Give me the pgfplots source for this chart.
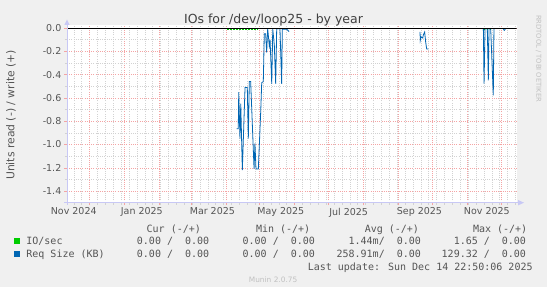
\documentclass[border=0pt]{standalone}
\usepackage{fontspec}
\setmainfont{DejaVu Sans}
\newfontfamily\monofont{DejaVu Sans Mono}
\usepackage{pgfplots}
\pgfplotsset{compat=1.18}
\definecolor{bgc}{HTML}{F0F0F0}
\definecolor{txt}{HTML}{555555}
\definecolor{ttl}{HTML}{404040}
\definecolor{mgrid}{HTML}{F4A4A4}
\definecolor{ngrid}{HTML}{D2D2D2}
\definecolor{axc}{HTML}{C8C8F5}
\definecolor{ioc}{HTML}{00CC00}
\definecolor{rqc}{HTML}{0066B3}
\definecolor{wm}{HTML}{C0C0C0}
\begin{document}
\begin{tikzpicture}[x=1pt,y=1pt]
\fill[bgc] (0,0) rectangle (547,287);
\useasboundingbox (0,0) rectangle (547,287);
\begin{axis}[
  at={(67pt,84.3pt)}, anchor=south west, scale only axis,
  width=449.5pt, height=177.7pt,
  xmin=0, xmax=398.9, ymin=-1.5, ymax=0.026,
  axis background/.style={fill=white},
  axis line style={draw=none},
  tick pos=left, tick align=outside,
  major tick length=2.5pt, minor tick length=2pt,
  major tick style={mgrid, line width=0.5pt},
  minor tick style={ngrid, line width=0.5pt},
  grid=both,
  major grid style={mgrid, line width=0.5pt, dash pattern=on 1pt off 1.2pt},
  minor grid style={ngrid, line width=0.5pt, dash pattern=on 1pt off 1.2pt},
  xtick={20,51,82,110,141,171,202,232,263,294,324,355,385},
  xticklabels={},
  minor xtick={6,13,...,398},
  extra x ticks={6,66.4,129,189.7,250,312.8,372.6},
  extra x tick labels={Nov 2024,Jan 2025,Mar 2025,May 2025,Jul 2025,Sep 2025,Nov 2025},
  extra x tick style={grid=none, major tick length=0pt},
  ytick={-1.4,-1.2,-1.0,-0.8,-0.6,-0.4,-0.2,0},
  yticklabels={-1.4,-1.2,-1.0,-0.8,-0.6,-0.4,-0.2,0.0},
  minor ytick={-1.3,-1.1,-0.9,-0.7,-0.5,-0.3,-0.1},
  tick label style={font=\fontsize{9.5}{11}\selectfont, text=txt},
  xticklabel style={anchor=north, inner sep=0pt, yshift=-5pt},
  yticklabel style={anchor=east, inner sep=0pt, xshift=-3pt},
  clip=true,
]
\addplot[ioc, line width=0.8pt, dash pattern=on 1.5pt off 1.5pt] coordinates {(142,-0.012)(169,-0.012)};
\addplot[ioc, line width=0.8pt, dash pattern=on 1.5pt off 1.5pt] coordinates {(370,-0.008)(376,-0.008)};
\addplot[rqc, line width=0.8pt] coordinates {
(150.6,-0.865)(152.0,-0.865)(152.4,-0.55)(153.5,-0.95)(154.2,-0.65)(155.6,-1.22)
(158.0,-0.51)(160.0,-0.51)(160.9,-0.95)(161.8,-0.46)(163.0,-0.46)(166.0,-1.21)
(166.8,-0.99)(167.7,-1.21)(169.8,-1.21)(171.9,-0.72)(172.8,-0.47)(174.2,-0.46)
(175.1,-0.05)(176.3,-0.05)(177.2,-0.21)(178.1,-0.005)(179.5,-0.15)(180.2,-0.10)
(181.7,-0.48)(182.6,-0.01)(184.0,-0.15)(185.2,-0.48)(186.1,-0.005)(189.0,-0.005)
(190.5,-0.48)(191.1,-0.01)(195.0,-0.01)(197.0,-0.03)};
\addplot[rqc, line width=0.8pt] coordinates {
(313.3,-0.034)(313.5,-0.106)(314.2,-0.075)(315.7,-0.086)(316.2,-0.06)
(317.4,-0.034)(318.3,-0.12)(319.2,-0.18)(320.6,-0.18)};
\addplot[rqc, line width=0.8pt] coordinates {
(369.5,-0.005)(370.1,-0.478)(371.0,-0.005)(373.0,-0.005)(373.9,-0.45)
(374.5,-0.005)(376.0,-0.005)(378.3,-0.578)(378.9,-0.005)};
\addplot[rqc, line width=0.8pt] coordinates {(387.2,-0.01)(388.1,-0.02)(389.0,-0.01)};
\addplot[black, line width=0.8pt] coordinates {(0,0)(398.9,0)};
\end{axis}
% axes with arrows
\draw[axc, line width=0.8pt] (64,84.3) -- (518,84.3);
\fill[axc] (518,87) -- (524,84.3) -- (518,81.6) -- cycle;
\draw[axc, line width=0.8pt] (67,82) -- (67,262);
\fill[axc] (64.3,262) -- (67,267.5) -- (69.7,262) -- cycle;
% title and labels
\node[anchor=base, text=ttl, font=\fontsize{12.5}{14}\selectfont] at (273.5,263.5) {IOs for /dev/loop25 - by year};
\node[rotate=90, text=txt, font=\fontsize{10.8}{12}\selectfont] at (11,172) {Units read (-) / write (+)};
\node[rotate=-90, text=wm, font=\fontsize{6.75}{8}\selectfont] at (538.5,228.5) {RRDTOOL / TOBI OETIKER};
% legend
\begin{scope}[every node/.style={text=txt, font=\monofont\fontsize{10}{12}\selectfont, inner sep=0pt}]
\node[anchor=base west] at (146.5,54.2) {Cur (-/+)};
\node[anchor=base west] at (255.8,54.2) {Min (-/+)};
\node[anchor=base west] at (364.6,54.2) {Avg (-/+)};
\node[anchor=base west] at (472.8,54.2) {Max (-/+)};
\fill[ioc] (13.6,42.6) rectangle (19.6,48.6);
\node[anchor=base west] at (26.2,42) {IO/sec};
\node[anchor=base east] at (209.4,42) {0.00 /\ \ 0.00};
\node[anchor=base east] at (315.1,42) {0.00 /\ \ 0.00};
\node[anchor=base east] at (421.1,42) {1.44m/\ \ 0.00};
\node[anchor=base east] at (526.2,42) {1.65 /\ \ 0.00};
\fill[rqc] (13.6,29.7) rectangle (19.6,35.7);
\node[anchor=base west] at (26.2,29.1) {Req Size (KB)};
\node[anchor=base east] at (209.4,29.1) {0.00 /\ \ 0.00};
\node[anchor=base east] at (315.1,29.1) {0.00 /\ \ 0.00};
\node[anchor=base east] at (421.1,29.1) {258.91m/\ \ 0.00};
\node[anchor=base east] at (526.2,29.1) {129.32 /\ \ 0.00};
\node[anchor=base east] at (532.8,16.2) {Last update: Sun Dec 14 22:50:06 2025};
\end{scope}
\node[anchor=base, text=wm, font=\fontsize{7.4}{9}\selectfont, inner sep=0pt] at (273.1,4.7) {Munin 2.0.75};
\end{tikzpicture}
\end{document}
